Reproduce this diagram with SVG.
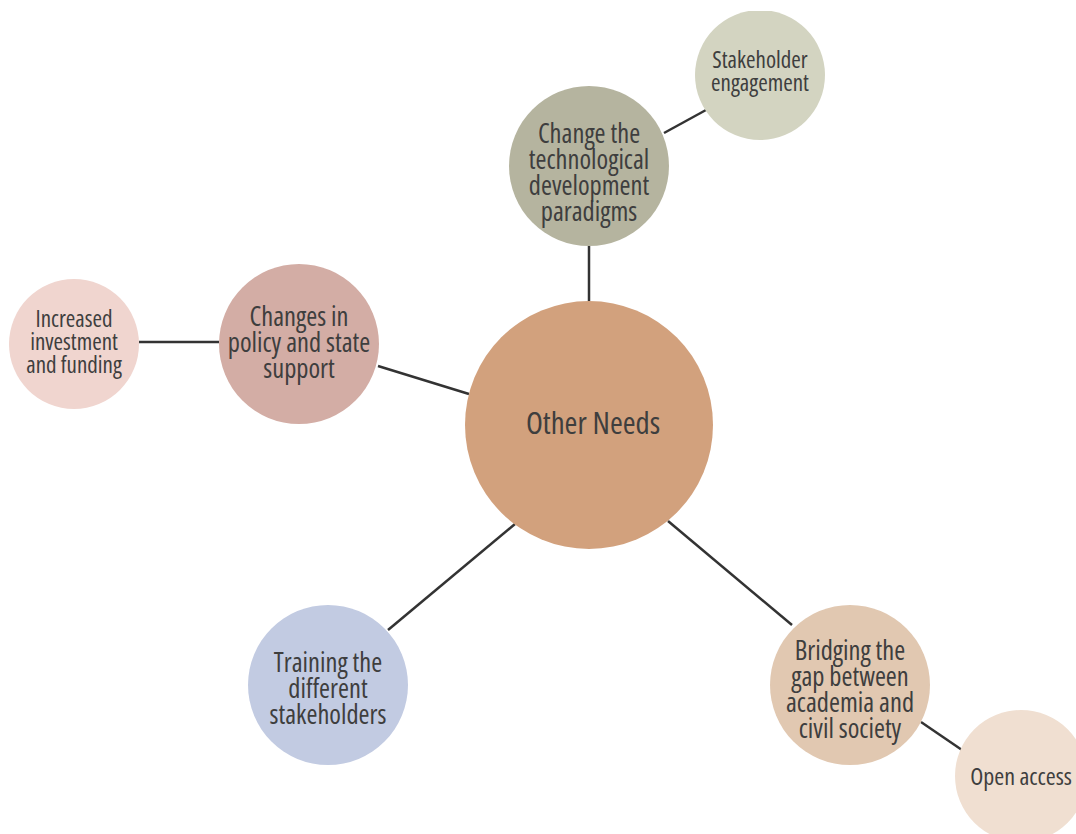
<svg xmlns="http://www.w3.org/2000/svg" width="1076" height="834" viewBox="0 0 1076 834">
<style>
.t{font-family:"Liberation Sans Narrow","Open Sans","DejaVu Sans Condensed",sans-serif;font-stretch:condensed;fill:#3e3e3e;text-anchor:middle}
.m{font-size:26.5px}
.s{font-size:23px}
.c{stroke:#333;stroke-width:2.5;fill:none}
</style>
<defs><clipPath id="clip"><rect x="0" y="11" width="1076" height="823"/></clipPath></defs>
<rect width="1076" height="834" fill="#fff"/>
<g id="connectors">
<line class="c" x1="589" y1="246" x2="589" y2="301"/>
<line class="c" x1="664" y1="133" x2="706" y2="110"/>
<line class="c" x1="378" y1="366" x2="469" y2="394"/>
<line class="c" x1="139" y1="342" x2="219" y2="342"/>
<line class="c" x1="388" y1="630" x2="515" y2="524"/>
<line class="c" x1="668" y1="521" x2="792" y2="625"/>
<line class="c" x1="921" y1="722" x2="962" y2="750"/>
</g>
<g clip-path="url(#clip)">
<g id="center"><circle cx="589" cy="425" r="124" fill="#D2A17D"/><text class="t" x="593" y="434" font-size="31">Other Needs</text></g>
<g id="tech"><circle cx="589" cy="166" r="80" fill="#B5B49F"/><text class="t m" x="589" y="143">Change the</text><text class="t m" x="589" y="169">technological</text><text class="t m" x="589" y="195">development</text><text class="t m" x="589" y="221">paradigms</text></g>
<g id="stakeholder"><circle cx="760" cy="75" r="65" fill="#D3D4C1"/><text class="t s" x="760" y="68">Stakeholder</text><text class="t s" x="760" y="91">engagement</text></g>
<g id="policy"><circle cx="299" cy="344" r="80" fill="#D3ADA5"/><text class="t m" x="299" y="326">Changes in</text><text class="t m" x="299" y="352">policy and state</text><text class="t m" x="299" y="378">support</text></g>
<g id="investment"><circle cx="74" cy="344" r="65" fill="#F0D5CF"/><text class="t s" x="74" y="327">Increased</text><text class="t s" x="74" y="350">investment</text><text class="t s" x="74" y="373">and funding</text></g>
<g id="training"><circle cx="328" cy="685" r="80" fill="#C2CBE2"/><text class="t m" x="328" y="672">Training the</text><text class="t m" x="328" y="698">different</text><text class="t m" x="328" y="724">stakeholders</text></g>
<g id="bridging"><circle cx="850" cy="685" r="80" fill="#E1C8B1"/><text class="t m" x="850" y="660">Bridging the</text><text class="t m" x="850" y="686">gap between</text><text class="t m" x="850" y="712">academia and</text><text class="t m" x="850" y="738">civil society</text></g>
<g id="openaccess"><circle cx="1021" cy="776" r="66" fill="#F0DFD1"/><text class="t" x="1021" y="785" font-size="24">Open access</text></g>
</g>
</svg>
